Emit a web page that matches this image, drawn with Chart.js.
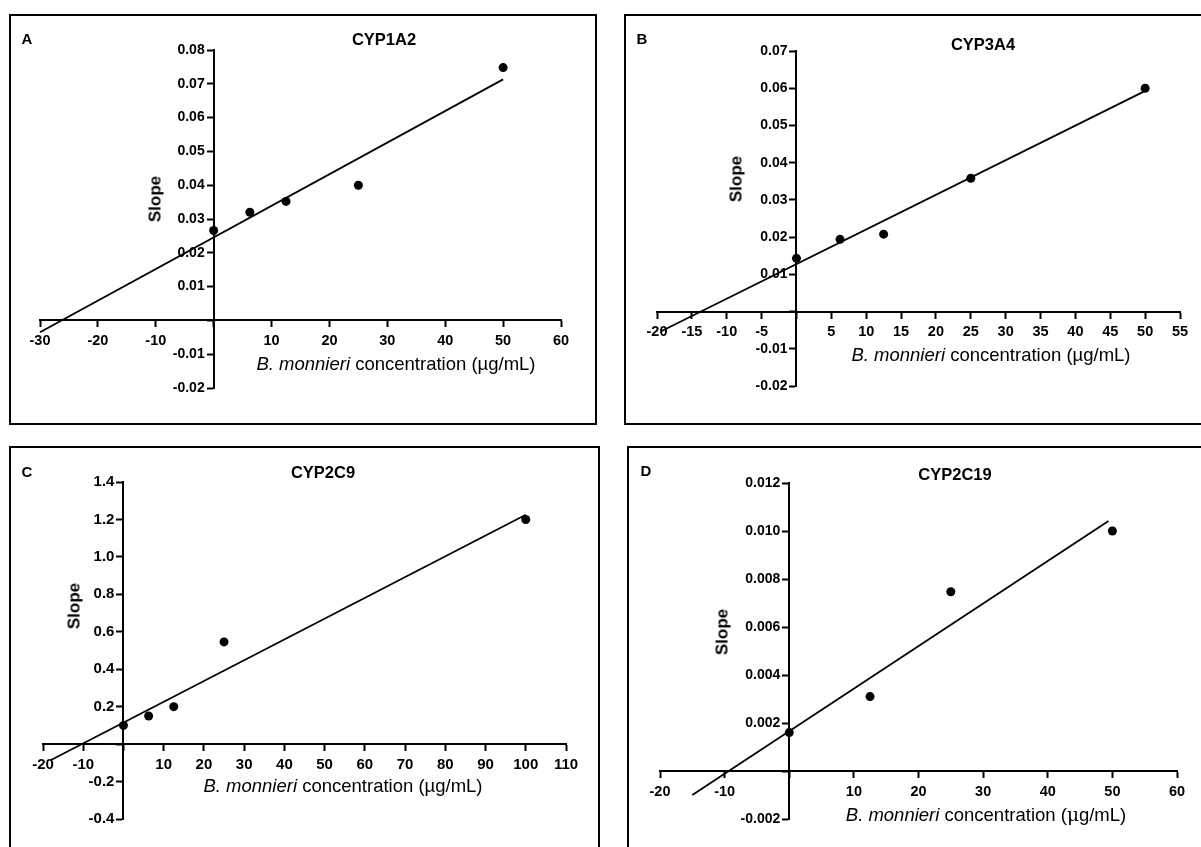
<!DOCTYPE html>
<html lang="en">
<head>
<meta charset="UTF-8" />
<title>B. monnieri | CYP slope replots</title>
<script src="https://cdn.jsdelivr.net/npm/chart.js@4.4.1/dist/chart.umd.min.js"></script>
<style>
  html, body { margin: 0; padding: 0; background: #fff; }
  body { position: relative; width: 1201px; height: 847px; overflow: hidden;
         font-family: "Liberation Sans", Arial, sans-serif; color: #000; }
  .panel { position: absolute; border: 2px solid #000; box-sizing: border-box; }
  canvas { position: absolute; left: 0; top: 0; }
  .t { position: absolute; white-space: nowrap; line-height: 1; transform: translate(-50%, -50%); }
  .letter { font-size: 15px; font-weight: bold; }
  .title { font-size: 16.5px; font-weight: bold; }
  .slope { font-size: 17px; font-weight: bold; transform: translate(-50%, -50%) rotate(-90deg); }
  .xt { font-size: 18.5px; }
</style>
</head>
<body>
  <!-- panel frames -->
  <div class="panel" style="left:9px;top:14px;width:588px;height:411px"></div>
  <div class="panel" style="left:624px;top:14px;width:600px;height:411px"></div>
  <div class="panel" style="left:9px;top:446px;width:591px;height:420px"></div>
  <div class="panel" style="left:627px;top:446px;width:600px;height:420px"></div>

  <canvas id="chartA" width="1201" height="847"></canvas>
  <canvas id="chartB" width="1201" height="847"></canvas>
  <canvas id="chartC" width="1201" height="847"></canvas>
  <canvas id="chartD" width="1201" height="847"></canvas>

  <!-- labels -->
  <div class="t letter" style="left:27px;top:38px">A</div>
  <div class="t title" style="left:384px;top:39px">CYP1A2</div>
  <div class="t slope" style="left:155px;top:199px">Slope</div>
  <div class="t xt" style="left:396px;top:364px"><i>B. monnieri</i> concentration (µg/mL)</div>

  <div class="t letter" style="left:642px;top:38px">B</div>
  <div class="t title" style="left:983px;top:44px">CYP3A4</div>
  <div class="t slope" style="left:736px;top:179px">Slope</div>
  <div class="t xt" style="left:991px;top:355px"><i>B. monnieri</i> concentration (µg/mL)</div>

  <div class="t letter" style="left:27px;top:471px">C</div>
  <div class="t title" style="left:323px;top:472px">CYP2C9</div>
  <div class="t slope" style="left:74px;top:606px">Slope</div>
  <div class="t xt" style="left:343px;top:786px"><i>B. monnieri</i> concentration (µg/mL)</div>

  <div class="t letter" style="left:646px;top:470px">D</div>
  <div class="t title" style="left:955px;top:474px">CYP2C19</div>
  <div class="t slope" style="left:722px;top:632px">Slope</div>
  <div class="t xt" style="left:986px;top:815px"><i>B. monnieri</i> concentration (<span style="font-family:'DejaVu Serif',serif">μ</span>g/mL)</div>

<script>
  // ---- data ----
  // A: CYP1A2
  const concA = [0, 6.25, 12.5, 25, 50];
  const slopeA = [0.0266, 0.032, 0.0352, 0.040, 0.0748];
  const fitXA = [-30, 50];
  const fitYA = [-0.0035, 0.0713];

  // B: CYP3A4
  const concB = [0, 6.25, 12.5, 25, 50];
  const slopeB = [0.0143, 0.0194, 0.0208, 0.0358, 0.060];
  const fitXB = [-19.4, 49.8];
  const fitYB = [-0.0053, 0.0591];

  // C: CYP2C9
  const concC = [0, 6.25, 12.5, 25, 100];
  const slopeC = [0.10, 0.15, 0.20, 0.546, 1.20];
  const fitXC = [-18, 100];
  const fitYC = [-0.085, 1.225];

  // D: CYP2C19
  const concD = [0, 12.5, 25, 50];
  const slopeD = [0.0016, 0.0031, 0.00747, 0.0100];
  const fitXD = [-15, 49.4];
  const fitYD = [-0.0010, 0.01042];

  const PAGE_W = 1201, PAGE_H = 847;
  const FONT = '"Liberation Sans", Arial, sans-serif';

  function pts(xs, ys) {
    return xs.map((x, i) => ({ x: x, y: ys[i] }));
  }

  function fmt(dec) {
    return (v) => (Math.abs(v) < 1e-9 ? '' : v.toFixed(dec));
  }

  // y axis sits at x = 0, chart.js puts its labels right on the line,
  // so draw them here with a proper gap
  const yTickLabels = {
    id: 'yTickLabels',
    afterDraw(chart, args, opts) {
      const ys = chart.scales.y;
      const x0 = chart.scales.x.getPixelForValue(0);
      const ctx = chart.ctx;
      const f = fmt(opts.dec);
      ctx.save();
      ctx.fillStyle = '#000';
      ctx.font = 'bold ' + opts.size + 'px ' + FONT;
      ctx.textAlign = 'right';
      ctx.textBaseline = 'middle';
      ys.ticks.forEach((t) => {
        const s = f(t.value);
        if (s) ctx.fillText(s, x0 - opts.gap, ys.getPixelForValue(t.value));
      });
      ctx.restore();
    }
  };

  function axis(min, max, step, dec, size, pad, show) {
    return {
      type: 'linear',
      min: min,
      max: max,
      grid: { drawOnChartArea: false, drawTicks: true, tickLength: 6, tickWidth: 2, tickColor: '#000' },
      border: { display: true, color: '#000', width: 2 },
      ticks: {
        display: show,
        stepSize: step,
        autoSkip: false,
        maxRotation: 0,
        padding: pad,
        color: '#000',
        font: { family: FONT, weight: 'bold', size: size },
        callback: fmt(dec)
      }
    };
  }

  function makeChart(id, area, xs, ys, fx, fy, xAx, yAx, yLab) {
    xAx.position = { y: 0 };
    yAx.position = { x: 0 };
    new Chart(document.getElementById(id), {
      type: 'scatter',
      data: {
        datasets: [
          {
            data: pts(xs, ys),
            pointRadius: 4.5,
            pointBackgroundColor: '#000',
            pointBorderWidth: 0,
            showLine: false,
            clip: false
          },
          {
            data: pts(fx, fy),
            showLine: true,
            pointRadius: 0,
            borderColor: '#000',
            borderWidth: 1.8,
            clip: false
          }
        ]
      },
      options: {
        responsive: false,
        animation: false,
        layout: {
          padding: { left: area[0], top: area[1], right: PAGE_W - area[2], bottom: PAGE_H - area[3] }
        },
        plugins: {
          legend: { display: false },
          tooltip: { enabled: false },
          yTickLabels: yLab
        },
        scales: { x: xAx, y: yAx }
      },
      plugins: [yTickLabels]
    });
  }

  // chart areas [left, top, right, bottom] = axis extents on the page
  makeChart('chartA', [40, 50, 561, 388], concA, slopeA, fitXA, fitYA,
    axis(-30, 60, 10, 0, 14.5, 6, true), axis(-0.02, 0.08, 0.01, 2, 14, 0, false),
    { dec: 2, size: 14, gap: 9 });
  makeChart('chartB', [657, 51, 1180, 386], concB, slopeB, fitXB, fitYB,
    axis(-20, 55, 5, 0, 14.5, 6, true), axis(-0.02, 0.07, 0.01, 2, 14, 0, false),
    { dec: 2, size: 14, gap: 9 });
  makeChart('chartC', [43, 482, 566, 819], concC, slopeC, fitXC, fitYC,
    axis(-20, 110, 10, 0, 15, 6, true), axis(-0.4, 1.4, 0.2, 1, 15, 0, false),
    { dec: 1, size: 15, gap: 9 });
  makeChart('chartD', [660, 483, 1177, 819], concD, slopeD, fitXD, fitYD,
    axis(-20, 60, 10, 0, 14.5, 6, true), axis(-0.002, 0.012, 0.002, 3, 14, 0, false),
    { dec: 3, size: 14, gap: 9 });
</script>
</body>
</html>
